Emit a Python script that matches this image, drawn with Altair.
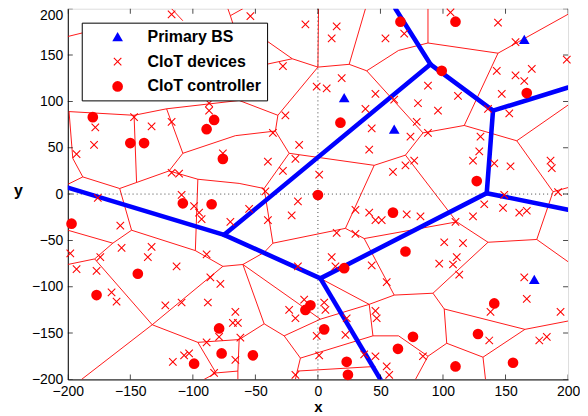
import altair as alt
import pandas as pd

# ---------------- data ----------------
ticks = [-200, -150, -100, -50, 0, 50, 100, 150, 200]

# CIoT devices (x markers)
dev_x = [-117, -54, -10, 15, 11, 54, 69, 106, 144, 158, 199, 143, 158, 171, 165, 88, 147, 112, 80, 96, 136, 153, 79,
         -28, 19, -1, 7, 46, 61, 38, -26, 43, -87, -87, -147, -178, -133, -117, -179, -193, -76, -117, -111, -109,
         -99, -95, -93, -70, -158, -176, -198, -157, -133, -136, -174, -89, -36, -15, 41, -40, -18, -28, 1, 60, 70,
         -42, -16, -55, -21, -40, 30, 41, 46, 51, 71, 15, 30, 11, 74, 88, 130, 129, 124, 77, 141, 154, 186, 187, 192,
         149, 133, 148, 161, 167, 82, 124, 110, 101, 116, 97, 111, 108, 113, 43, 55, 165, 167, 138, 194, 137, 177,
         183, 84, 14, -16, -11, -23, -18, 5, 6, -66, -68, -64, -62, 23, 46, 47, -1, 22, -66, 1, 37, 46, 55, 57, -18,
         -193, -177, -113, -86, -78, -165, -161, -122, -109, -88, -79, -89, -116, -107, -103, -83]
dev_y = [194, 192, 183, 181, 168, 168, 173, 196, 185, 164, 145, 133, 128, 135, 122, 117, 108, 106, 98, 90, 92, 87, 78,
         138, 125, 116, 114, 108, 102, 92, 85, 71, 98, 90, 83, 72, 73, 78, 53, 43, 44, 23, 22, -1,
         -13, -20, -27, -30, -34, -4, -64, -58, -57, -68, -68, -65, 66, 53, 48, 35, 38, 25, 21, 24, 31,
         3, -8, -16, -23, -28, -17, -20, -28, -28, -22, -42, -43, -68, 62, 66, 62, 46, 36, 36, 33, 30, 36, 28, 2,
         -1, -11, -15, -20, -18, -24, -24, -30, -52, -53, -75, -68, -76, -87, -77, -95, -90, -113, -127, -127, -158, -158,
         -154, -175, -78, -78, -114, -125, -134, -117, -125, -127, -139, -139, -155, -134, -126, -134, -153, -152, -179, -174, -173, -175, -186, -195, -195,
         -81, -83, -78, -90, -97, -106, -116, -120, -117, -117, -154, -160, -181, -174, -172, -193]

# CIoT controllers (filled circles)
ctrl_x = [66, 110, 99, 167, 18, -180, -150, -139, -89, -83, -76, -108, -85, -197, 0, 60, 127, 70, 21, -144, -177,
          -79, -77, -99, -52, -10, -6, 5, 23, 24, 64, 76, 141, 128, 156, 110]
ctrl_y = [186, 186, 133, 109, 77, 83, 55, 55, 70, 80, 38, -10, -11, -32, -1, -20, 14, -62, -80, -86, -109,
          -145, -172, -183, -174, -125, -120, -146, -181, -195, -167, -154, -118, -151, -182, -186]

# Primary base stations (triangles)
bs_x = [21, 61, 165, 173]
bs_y = [104, 70, 167, -92]

# thin red cell boundaries: (x1, y1, x2, y2)
red_edges = [
    (-199, 89, -147, 85), (-147, 85, -121, 92), (-121, 92, -63, 101), (-63, 101, -63, 112), (-63, 101, -32, 85),
    (-32, 85, 0, 137), (-48, 172, -20.5, 146), (-48, 138, -20.5, 146), (-20.5, 146, 0, 137), (0, 137, 0.5, 200),
    (0, 137, 25, 140), (25, 140, 38, 200), (25, 140, 39, 133), (39, 133, 64.5, 155), (64.5, 155, 88, 163),
    (88, 163, 88, 200), (88, 163, 144, 152), (144, 152, 200, 194), (144, 152, 117, 74), (39, 133, 84, 66),
    (84, 66, 117, 74), (117, 74, 159, 57.5), (159, 57.5, 200, 96), (84, 66, 70, 42), (159, 57.5, 188, 2.5),
    (188, 2.5, 200, 7), (70, 42, 45, 31), (70, 42, 111, -30), (188, 2.5, 175, -49), (175, -49, 200, -73),
    (111, -30, 136, -52), (175, -49, 136, -52), (136, -52, 92, -107),
    (-32, 85, -34, 68), (-108, 44, -66, 63), (-66, 63, -34, 68), (-34, 68, -23, 44), (-23, 44, 45, 31),
    (-23, 44, -43, 6), (-43, 6, -63, 11.5), (-63, 11.5, -96, 16), (-43, 6, -36, -53), (-36, -53, 22, -37),
    (45, 31, 22, -37), (22, -37, 37, -48), (37, -48, 111, -30), (37, -48, 61, -109), (-36, -53, -43, -63),
    (-43, -63, -60, -76), (-60, -76, -76, -78), (-76, -78, -98, -61), (-96, 16, -98, -61), (-98, -61, -149, -39),
    (-76, -78, -132.5, -141), (-60, -76, -43, -140), (-60, -76, 2, -135), (-43, -140, -63, -157),
    (-43, -140, -27, -153), (-27, -153, 2, -135), (2, -135, 41, -119), (2, -91, 41, -119), (41, -119, 61, -109),
    (61, -109, 92, -107), (92, -107, 101, -124), (101, -124, 165.5, -146), (165.5, -146, 200, -137),
    (165.5, -146, 132, -176), (132, -176, 134, -200), (132, -176, 103, -161), (103, -161, 101, -124),
    (103, -161, 88, -175), (88, -175, 78, -200), (88, -175, 64.5, -153), (64.5, -153, 44, -153),
    (44, -153, 41, -119), (44, -153, -14, -177), (-14, -177, -27, -153), (-14, -177, -16.5, -191),
    (-16.5, -191, -18, -200), (-16.5, -191, 46, -186), (-63, -157, -96, -160), (-63, -157, -64, -191),
    (-64, -191, -64, -200), (-96, -160, -132.5, -141), (-96, -160, -81.5, -193), (-81.5, -193, -64, -191),
    (-81.5, -193, -91, -200), (-132.5, -141, -189, -200), (-132.5, -141, -178.5, -70), (-178.5, -70, -200, -76),
    (-178.5, -70, -164, -53), (-164, -53, -200, -39), (-164, -53, -149, -39), (-149, -39, -158.5, 6),
    (-158.5, 6, -188, 18.5), (-188, 18.5, -200, 10.5), (-188, 18.5, -196, 38.5), (-196, 38.5, -199, 89),
    (-158.5, 6, -145, 12.5), (-145, 12.5, -147, 85), (-145, 12.5, -119, 25), (-119, 25, -108, 44),
    (-108, 44, -121, 92), (-119, 25, -96, 16),
    (-200, 170, -185, 175), (-117, 200, -108, 187), (-70, 192.5, -72, 200), (-70, 192.5, -60, 200),
    (-70, 192.5, -68, 184),
]

# thick blue cell boundaries of the base stations: (x1, y1, x2, y2)
blue_edges = [
    (-200, 7, -75, -44), (-75, -44, 2, -91), (-75, -44, 90, 140), (90, 140, 62, 200), (90, 140, 140, 90),
    (140, 90, 200, 115), (140, 90, 135, 1), (135, 1, 200, -17), (135, 1, 2, -91), (2, -91, 50, -200),
]

legend_order = ["Primary BS", "CIoT devices", "CIoT controller"]

# ---------------- tables ----------------
red_df = pd.DataFrame(red_edges, columns=["x", "y", "x2", "y2"])
blue_df = pd.DataFrame(blue_edges, columns=["x", "y", "x2", "y2"])
pts = pd.DataFrame({
    "x": dev_x + ctrl_x + bs_x,
    "y": dev_y + ctrl_y + bs_y,
    "type": ["CIoT devices"] * len(dev_x) + ["CIoT controller"] * len(ctrl_x) + ["Primary BS"] * len(bs_x),
})
tick_df = pd.DataFrame({"x": ticks, "y": ticks})
zero_df = pd.DataFrame({"x": [0], "y": [0]})

FONT = "Liberation Sans"
xs = alt.Scale(domain=[-200, 200], nice=False, zero=False)
ys = alt.Scale(domain=[-200, 200], nice=False, zero=False)
xaxis = alt.Axis(values=ticks, title="x", ticks=False, grid=False, labelFontSize=14, labelFont=FONT,
                 labelColor="black", labelPadding=5, labelFlush=False, labelOverlap=False,
                 titleFont=FONT, titleFontSize=15, titleFontWeight="bold", titleColor="black", titlePadding=1,
                 domainColor="black")
yaxis = alt.Axis(values=ticks, title="y", ticks=False, grid=False, labelFontSize=14, labelFont=FONT,
                 labelColor="black", labelPadding=5, labelFlush=False, labelOverlap=False,
                 labelBaseline={"condition": {"test": "datum.value == 200", "value": "top"}, "value": "middle"},
                 titleFont=FONT, titleFontSize=16, titleFontWeight="bold", titleColor="black",
                 titleAngle=0, titleAlign="center", titleBaseline="middle", titleX=-50, titleY=182,
                 domainColor="black")


def X(f="x"):
    return alt.X(f"{f}:Q", scale=xs, axis=xaxis)


def Y(f="y"):
    return alt.Y(f"{f}:Q", scale=ys, axis=yaxis)


red = alt.Chart(red_df).mark_rule(color="#ff0000", strokeWidth=0.9, clip=True).encode(
    x=X(), y=Y(), x2="x2:Q", y2="y2:Q")

vzero = alt.Chart(zero_df).mark_rule(color="#444444", strokeDash=[1, 3], strokeWidth=1).encode(x=X())
hzero = alt.Chart(zero_df).mark_rule(color="#444444", strokeDash=[1, 3], strokeWidth=1).encode(y=Y())

blue = alt.Chart(blue_df).mark_rule(color="#0000ff", strokeWidth=4.6, strokeCap="round", clip=True).encode(
    x=X(), y=Y(), x2="x2:Q", y2="y2:Q")

leg = alt.Legend(title=None, orient="none", legendX=14, legendY=14, fillColor="white", strokeColor="black",
                 padding=6, symbolOffset=22, labelOffset=22, rowPadding=9, labelFontSize=16,
                 labelFontWeight="bold", labelFont=FONT, labelColor="black", symbolStrokeWidth=0,
                 symbolSize=115, cornerRadius=0)
# the device marker is a thin filled "x" outline so that it takes the fill colour
x_marker = ("M-0.63,-0.77L0.77,0.63L0.63,0.77L-0.77,-0.63Z"
            "M-0.77,0.63L0.63,-0.77L0.77,-0.63L-0.63,0.77Z")
shape_range = ["triangle-up", x_marker, "circle"]
col_range = ["#0000ff", "#ff0000", "#ff0000"]

points = alt.Chart(pts).mark_point(filled=True, opacity=1, size=115, strokeWidth=0).encode(
    x=X(), y=Y(),
    shape=alt.Shape("type:N", scale=alt.Scale(domain=legend_order, range=shape_range), legend=leg),
    color=alt.Color("type:N", scale=alt.Scale(domain=legend_order, range=col_range), legend=leg),
)

tk = dict(size=10, thickness=1, color="black", clip=True)
t_bottom = alt.Chart(tick_df).mark_tick(orient="vertical", **tk).encode(x=X(), y=alt.datum(-200))
t_top = alt.Chart(tick_df).mark_tick(orient="vertical", **tk).encode(x=X(), y=alt.datum(200))
t_left = alt.Chart(tick_df).mark_tick(orient="horizontal", **tk).encode(y=Y(), x=alt.datum(-200))
t_right = alt.Chart(tick_df).mark_tick(orient="horizontal", **tk).encode(y=Y(), x=alt.datum(200))

chart = alt.layer(red, vzero, hzero, blue, points, t_bottom, t_top, t_left, t_right).properties(
    width=502, height=372,
    autosize=alt.AutoSizeParams(type="none"),
    padding={"left": 60, "top": 0, "right": 12, "bottom": 36},
).configure_view(stroke="black", strokeWidth=1).configure(background="white")

chart.save("out.html", embed_options={"renderer": "svg", "actions": False})
